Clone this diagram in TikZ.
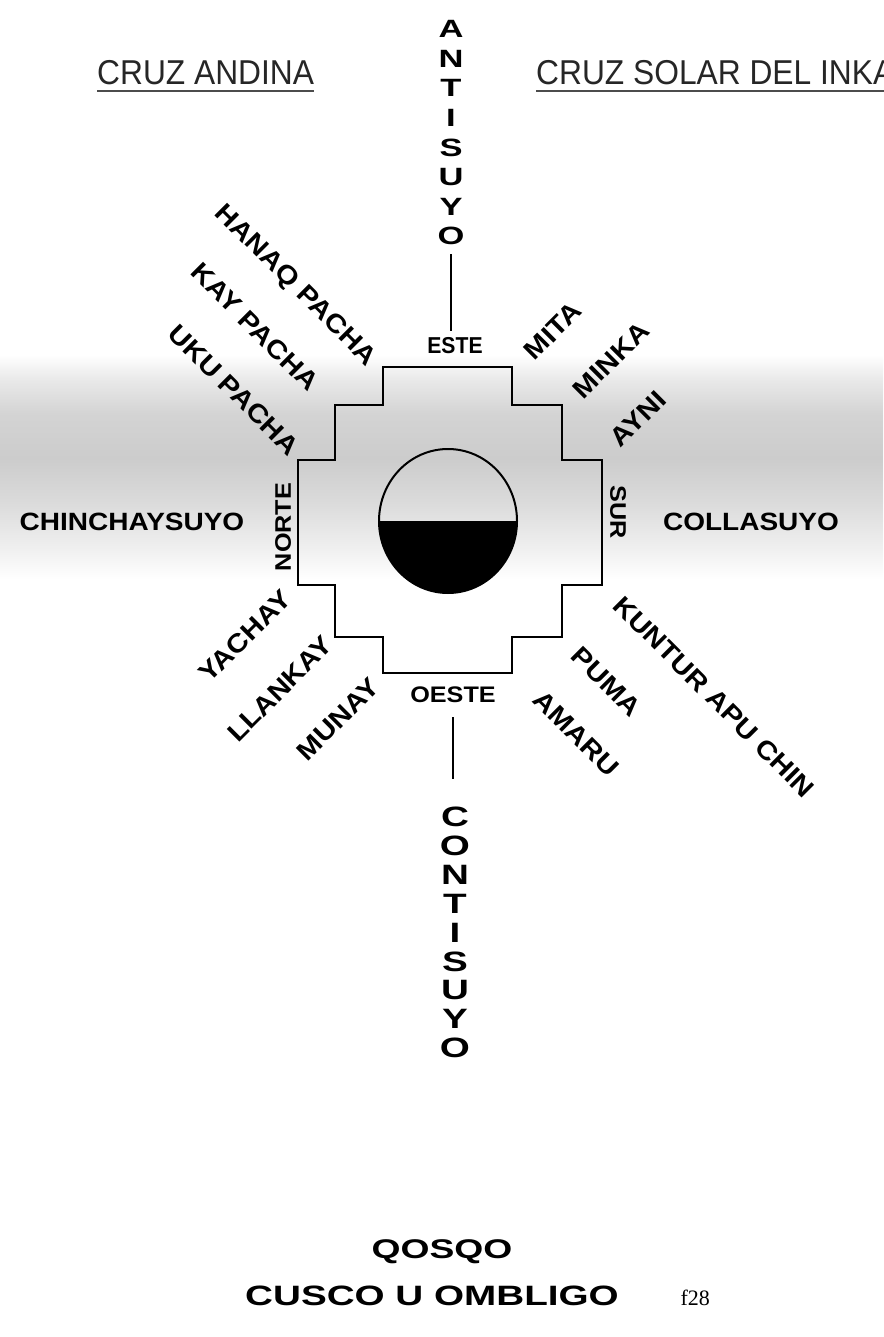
\documentclass[tikz,border=0pt]{standalone}
\usepackage{fontspec}
\setmainfont{Liberation Sans}
\newfontfamily\wideface[FakeStretch=1.12]{Liberation Sans}
\newfontfamily\xwideface[FakeStretch=1.38]{Liberation Sans}
\newfontfamily\narrowface[FakeStretch=0.92]{Liberation Sans}
\newfontfamily\serifface{Liberation Serif}
\usetikzlibrary{positioning}
\pgfdeclareverticalshading{mistband}{100bp}{color(0bp)=(white); color(25bp)=(white);
  color(32bp)=(gray!12); color(42bp)=(gray!28); color(52bp)=(gray!40);
  color(62bp)=(gray!34); color(70bp)=(gray!16); color(75bp)=(white); color(100bp)=(white)}

\begin{document}
\begin{tikzpicture}[x=1pt, y=-1pt,
  header/.style={font=\narrowface\fontsize{34.5}{34.5}\selectfont, inner sep=0pt, text=black!85},
  uline/.style={draw=black!70, line width=1.8pt},
  suyo/.style={font=\wideface\bfseries\fontsize{25}{25}\selectfont, inner sep=1pt},
  ray/.style={font=\wideface\bfseries\fontsize{26}{26}\selectfont, inner sep=1pt},
  cardinal/.style={font=\wideface\bfseries\fontsize{22.5}{22.5}\selectfont, inner sep=2pt},
  antiletter/.style={font=\xwideface\bfseries\fontsize{25}{25}\selectfont, inner sep=2pt},
  contiletter/.style={font=\xwideface\bfseries\fontsize{28}{28}\selectfont, inner sep=2pt},
  city/.style={font=\xwideface\bfseries\fontsize{27}{27}\selectfont, inner sep=1pt},
  stem/.style={draw, line width=2pt},
  chakana/.style={draw, line width=2.4pt, line join=miter}
]
\useasboundingbox (0,0) rectangle (883,1337);
\fill[white] (0,0) rectangle (883,1337);

%% Misty band behind the cross
\shade[shading=mistband] (0,355) rectangle (883,580);

%% Headers
\node[header, anchor=base west] (cruzA) at (97,85)  {CRUZ ANDINA};
\node[header, anchor=base west] (cruzS) at (536,85) {CRUZ SOLAR DEL INKA};
\draw[uline] ([yshift=-6pt]cruzA.base west) -- ([yshift=-6pt]cruzA.base east);
\draw[uline] ([yshift=-6pt]cruzS.base west) -- ([yshift=-6pt]cruzS.base east);

%% Stepped cross and sun
\draw[chakana] (383,367) -- (512,367) -- (512,405) -- (562,405) -- (562,460)
  -- (602,460) -- (602,585) -- (562,585) -- (562,637) -- (512,637) -- (512,673)
  -- (383,673) -- (383,637) -- (335,637) -- (335,585) -- (298,585) -- (298,460)
  -- (335,460) -- (335,405) -- (383,405) -- cycle;
\fill (517,521) arc[start angle=0, end angle=180, x radius=69, y radius=72] -- cycle;
\draw[line width=2pt] (448,521) ellipse[x radius=69, y radius=72];

%% Cardinal points
\node[cardinal, font=\narrowface\bfseries\fontsize{23}{23}\selectfont] (este) at (455,346) {ESTE};
\node[cardinal] (oeste) at (453,695) {OESTE};
\node[cardinal, rotate=90]  (norte) at (283,527) {NORTE};
\node[cardinal, rotate=-90] (sur)   at (618,512) {SUR};

%% Suyos
\node[suyo] (chin)  at (132,522) {CHINCHAYSUYO};
\node[suyo] (colla) at (751,522) {COLLASUYO};
\foreach \ch [count=\i] in {A,N,T,I,S,U,Y,O}
  \node[antiletter] (anti\i) at (451,{29+29.6*(\i-1)}) {\ch};
\foreach \ch [count=\i] in {C,O,N,T,I,S,U,Y,O}
  \node[contiletter] (conti\i) at (455,{817+28.9*(\i-1)}) {\ch};
\draw[stem, shorten <=7pt, shorten >=5pt] (anti8.south) -- (anti8.south |- este.north);
\draw[stem, shorten <=12pt, shorten >=26pt] (oeste.south) -- (oeste.south |- conti1.north);

%% Upper left: the three worlds
\node[ray, rotate=-45] (hanaq) at (295,286) {HANAQ PACHA};
\node[ray, rotate=-45] (kay)   at (255,327) {KAY PACHA};
\node[ray, rotate=-45] (uku)   at (234,390) {UKU PACHA};

%% Upper right
\node[ray, rotate=45] (mita)  at (553,331) {MITA};
\node[ray, rotate=45] (minka) at (611,360) {MINKA};
\node[ray, rotate=45] (ayni)  at (638,419) {AYNI};

%% Lower left
\node[ray, rotate=45] (yachay)  at (245,636) {YACHAY};
\node[ray, rotate=45] (llankay) at (280,689) {LLANKAY};
\node[ray, rotate=45] (munay)   at (338,719) {MUNAY};

%% Lower right
\node[ray, rotate=-45] (kuntur) at (714,697) {KUNTUR APU CHIN};
\node[ray, rotate=-45] (puma)   at (606,682) {PUMA};
\node[ray, rotate=-45] (amaru)  at (576,734) {AMARU};

%% Bottom
\node[city] (qosqo) at (442,1252) {QOSQO};
\node[city, font=\xwideface\bfseries\fontsize{28}{28}\selectfont] (cusco) at (432,1296) {CUSCO U OMBLIGO};
\node[font=\serifface\fontsize{22}{22}\selectfont, anchor=base west] (fig) at (677,1305) {f28};
\end{tikzpicture}
\end{document}
